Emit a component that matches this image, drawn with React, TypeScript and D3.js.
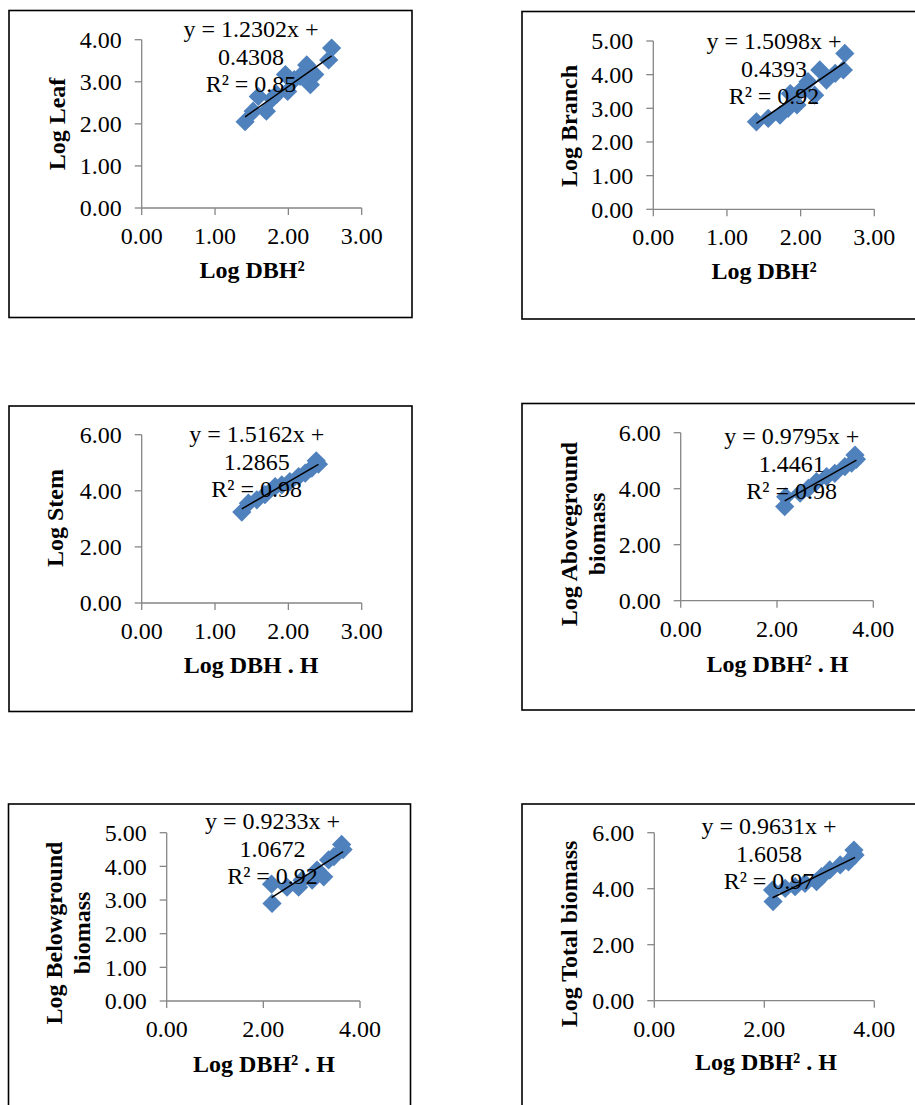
import React from "react";
import * as d3 from "d3";

// values
const leafX = [1.41, 1.52, 1.59, 1.7, 1.78, 1.84, 1.96, 1.99, 2.08, 2.16, 2.25, 2.3, 2.36, 2.55, 2.59];
const leafY = [2.05, 2.3, 2.65, 2.3, 2.6, 2.7, 3.17, 2.77, 3.05, 3.13, 3.4, 2.93, 3.17, 3.52, 3.8];

const branchX = [1.4, 1.56, 1.72, 1.83, 1.86, 1.95, 2.01, 2.1, 2.19, 2.26, 2.35, 2.47, 2.58, 2.6];
const branchY = [2.6, 2.7, 2.8, 3.0, 3.44, 3.1, 3.55, 3.79, 3.39, 4.14, 3.84, 4.04, 4.14, 4.63];

const stemX = [1.365, 1.455, 1.57, 1.68, 1.82, 1.91, 2.02, 2.14, 2.23, 2.32, 2.38, 2.41];
const stemY = [3.24, 3.56, 3.68, 3.86, 4.15, 4.21, 4.33, 4.51, 4.63, 4.81, 5.07, 4.95];

const agbX = [2.16, 2.18, 2.48, 2.65, 2.82, 3.03, 3.2, 3.41, 3.55, 3.62, 3.65];
const agbY = [3.36, 3.71, 3.84, 4.01, 4.25, 4.43, 4.55, 4.79, 4.91, 5.2, 5.05];

const bgbX = [2.18, 2.17, 2.49, 2.73, 2.8, 3.01, 3.11, 3.25, 3.35, 3.46, 3.62, 3.65];
const bgbY = [2.9, 3.47, 3.38, 3.38, 3.59, 3.59, 3.89, 3.69, 4.19, 4.29, 4.65, 4.5];

const totX = [2.16, 2.15, 2.38, 2.56, 2.74, 2.95, 3.04, 3.19, 3.38, 3.53, 3.63, 3.65];
const totY = [3.54, 3.95, 4.01, 4.07, 4.19, 4.25, 4.43, 4.67, 4.85, 4.96, 5.38, 5.2];

const seriesX = [leafX, branchX, stemX, agbX, bgbX, totX];
const seriesY = [leafY, branchY, stemY, agbY, bgbY, totY];

const slopes = [1.2302, 1.5098, 1.5162, 0.9795, 0.9233, 0.9631];
const intercepts = [0.4308, 0.4393, 1.2865, 1.4461, 1.0672, 1.6058];
const equations = [
  ["y = 1.2302x +", "0.4308", "R² = 0.85"],
  ["y = 1.5098x +", "0.4393", "R² = 0.92"],
  ["y = 1.5162x +", "1.2865", "R² = 0.98"],
  ["y = 0.9795x +", "1.4461", "R² = 0.98"],
  ["y = 0.9233x +", "1.0672", "R² = 0.92"],
  ["y = 0.9631x +", "1.6058", "R² = 0.97"],
];

const xTitles = ["Log DBH²", "Log DBH²", "Log DBH . H", "Log DBH² . H", "Log DBH² . H", "Log DBH² . H"];
const yTitles = [
  ["Log Leaf"],
  ["Log Branch"],
  ["Log Stem"],
  ["Log Aboveground", "biomass"],
  ["Log Belowground", "biomass"],
  ["Log Total biomass"],
];
const xTicks = [[0, 1, 2, 3], [0, 1, 2, 3], [0, 1, 2, 3], [0, 2, 4], [0, 2, 4], [0, 2, 4]];
const yTicks = [
  [0, 1, 2, 3, 4],
  [0, 1, 2, 3, 4, 5],
  [0, 2, 4, 6],
  [0, 2, 4, 6],
  [0, 1, 2, 3, 4, 5],
  [0, 2, 4, 6],
];

// pixel layout of each panel
const layout = [
  { fx: 9, fy: 10.5, fw: 403, fh: 307, x0: 141.7, x1: 361.7, y0: 208, y1: 39.7, eqX: 251, eqY: 37, xtX: 252, xtY: 278, ytX: [65], ytY: 124 },
  { fx: 522, fy: 11.5, fw: 420, fh: 307.5, x0: 653.3, x1: 874.3, y0: 209.3, y1: 41, eqX: 774, eqY: 49, xtX: 764, xtY: 279, ytX: [577], ytY: 126 },
  { fx: 9, fy: 406, fw: 403, fh: 305.5, x0: 141.7, x1: 361.7, y0: 603, y1: 434.7, eqX: 256.7, eqY: 442, xtX: 251, xtY: 673, ytX: [63], ytY: 518 },
  { fx: 522, fy: 403.5, fw: 420, fh: 306.5, x0: 680.7, x1: 873.3, y0: 600.7, y1: 432.7, eqX: 791.7, eqY: 444, xtX: 777.5, xtY: 672, ytX: [577, 605], ytY: 534 },
  { fx: 8.5, fy: 804, fw: 402, fh: 400, x0: 166.7, x1: 360, y0: 1001, y1: 832.7, eqX: 272.5, eqY: 829, xtX: 264, xtY: 1072, ytX: [62, 90], ytY: 933 },
  { fx: 522, fy: 804, fw: 420, fh: 400, x0: 654.3, x1: 874.3, y0: 1000.7, y1: 832.7, eqX: 769, eqY: 834, xtX: 766, xtY: 1070, ytX: [577], ytY: 934 },
];

const FONT = "'Liberation Serif', 'Times New Roman', serif";
const FS = 24;
const LINE_H = 27.5;
const BLUE = "#4F81BD";
const AXIS = "#868686";

function Panel({ i }: { i: number }) {
  const L = layout[i];
  const xs = seriesX[i];
  const ys = seriesY[i];
  const x = d3.scaleLinear().domain([0, d3.max(xTicks[i])!]).range([L.x0, L.x1]);
  const y = d3.scaleLinear().domain([0, d3.max(yTicks[i])!]).range([L.y0, L.y1]);
  const diamond = d3.symbol(d3.symbolSquare, 185)()!;
  const [lo, hi] = d3.extent(xs) as [number, number];
  const fit = (v: number) => slopes[i] * v + intercepts[i];
  const trend = d3.line()([
    [x(lo), y(fit(lo))],
    [x(hi), y(fit(hi))],
  ])!;

  return (
    <g fontFamily={FONT}>
      <rect x={L.fx} y={L.fy} width={L.fw} height={L.fh} fill="none" stroke="#000" strokeWidth={1.6} />
      {/* axes */}
      <line x1={L.x0} x2={L.x0} y1={L.y0} y2={L.y1} stroke={AXIS} strokeWidth={1.3} />
      <line x1={L.x0} x2={L.x1} y1={L.y0} y2={L.y0} stroke={AXIS} strokeWidth={1.3} />
      {yTicks[i].map((t) => (
        <g key={"y" + t}>
          <line x1={L.x0 - 7} x2={L.x0} y1={y(t)} y2={y(t)} stroke={AXIS} strokeWidth={1.3} />
          <text x={L.x0 - 20} y={y(t)} dy="0.35em" textAnchor="end" fontSize={FS}>
            {t.toFixed(2)}
          </text>
        </g>
      ))}
      {xTicks[i].map((t) => (
        <g key={"x" + t}>
          <line x1={x(t)} x2={x(t)} y1={L.y0} y2={L.y0 + 7} stroke={AXIS} strokeWidth={1.3} />
          <text x={x(t)} y={L.y0 + 36} textAnchor="middle" fontSize={FS}>
            {t.toFixed(2)}
          </text>
        </g>
      ))}
      {/* markers */}
      {xs.map((v, k) => (
        <path key={k} d={diamond} fill={BLUE} transform={`translate(${x(v)},${y(ys[k])}) rotate(45)`} />
      ))}
      <path d={trend} stroke="#000" strokeWidth={1.5} fill="none" />
      {/* trendline label */}
      {equations[i].map((s, k) => (
        <text key={k} x={L.eqX} y={L.eqY + k * LINE_H} textAnchor="middle" fontSize={FS}>
          {s}
        </text>
      ))}
      <text x={L.xtX} y={L.xtY} textAnchor="middle" fontSize={FS} fontWeight="bold">
        {xTitles[i]}
      </text>
      {yTitles[i].map((s, k) => (
        <text
          key={k}
          transform={`translate(${L.ytX[k]},${L.ytY}) rotate(-90)`}
          textAnchor="middle"
          fontSize={FS}
          fontWeight="bold"
        >
          {s}
        </text>
      ))}
    </g>
  );
}

export default function App() {
  return (
    <svg
      width={915}
      height={1105}
      style={{ position: "absolute", left: 0, top: 0, background: "#fff" }}
    >
      <rect width={915} height={1105} fill="#fff" />
      {layout.map((_, i) => (
        <Panel key={i} i={i} />
      ))}
    </svg>
  );
}
